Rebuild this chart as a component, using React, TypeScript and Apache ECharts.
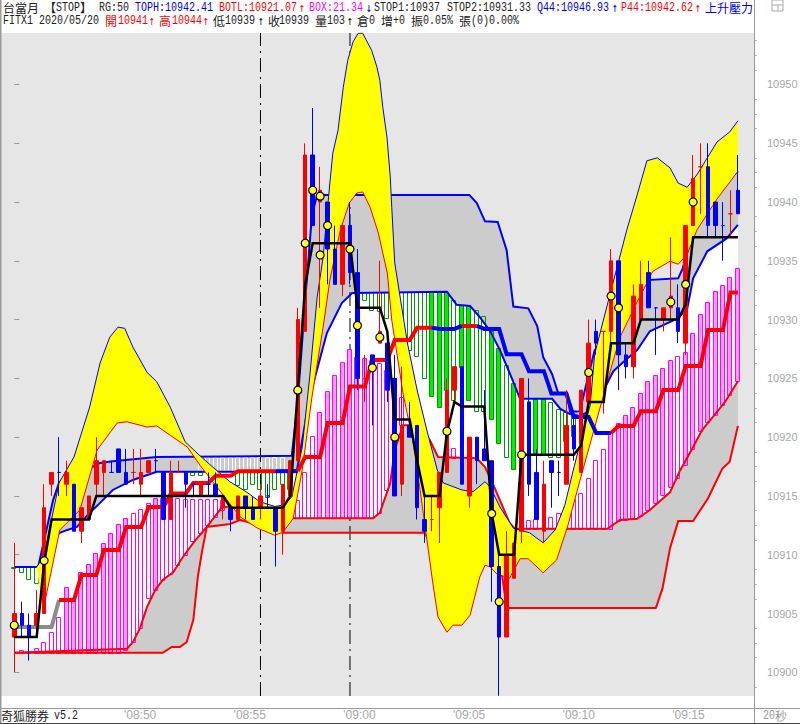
import React, { useEffect, useRef } from "react";
import * as echarts from "echarts";

const opens = [10903,10905,10904,10904,10905,10916,10917,10916,10916,10912,10913,10916,10917,10917,10919,10917,10917,10916,10917,10918,10917,10913,10917,10917,10916,10915,10916,10916,10914,10914,10913,10915,10914,10914,10915,10914,10912,10915,10918,10929,10944,10940,10940,10936,10933,10938,10934,10925,10927,10928,10928,10925,10916,10921,10921,10913,10913,10914,10917,10924,10926,10915,10920,10919,10918,10909,10903,10908,10912,10923,10917,10912,10918,10917,10916,10921,10917,10923,10929,10929,10929,10935,10927,10926,10930,10934,10931,10930,10931,10931,10928,10938,10943,10943,10940,10938,10939,10941];
const closes = [10905,10904,10903,10905,10914,10917,10917,10917,10912,10914,10915,10918,10918,10917,10917,10916,10917,10917,10918,10918,10913,10917,10917,10916,10916,10916,10916,10915,10915,10913,10915,10914,10913,10915,10915,10912,10916,10918,10930,10944,10938,10941,10936,10933,10938,10934,10925,10925,10926,10929,10924,10915,10921,10920,10914,10912,10913,10917,10924,10926,10916,10920,10918,10918,10909,10903,10910,10911,10925,10916,10913,10916,10917,10917,10921,10919,10924,10928,10928,10929,10935,10927,10926,10932,10933,10931,10931,10931,10932,10929,10938,10942,10943,10938,10938,10938,10939,10939];
const lows = [10900,10903,10901,10903,10905,10915,10915,10915,10912,10911,10913,10915,10915,10917,10917,10916,10916,10915,10917,10917,10913,10913,10917,10914,10915,10915,10915,10915,10913,10912,10913,10913,10913,10913,10914,10909,10910,10915,10918,10929,10938,10931,10933,10933,10932,10933,10924,10923,10921,10928,10923,10915,10915,10920,10913,10911,10912,10911,10917,10923,10916,10914,10916,10918,10906,10898,10903,10908,10911,10915,10913,10911,10914,10915,10916,10918,10917,10923,10927,10922,10928,10924,10925,10925,10930,10931,10927,10929,10930,10928,10927,10938,10939,10937,10937,10935,10937,10939];
const highs = [10911,10906,10905,10907,10916,10917,10920,10918,10916,10914,10915,10920,10918,10918,10919,10919,10919,10919,10918,10919,10917,10918,10918,10917,10916,10916,10917,10917,10915,10914,10915,10915,10915,10916,10916,10914,10916,10918,10931,10945,10948,10943,10940,10938,10938,10940,10936,10927,10927,10935,10928,10927,10926,10923,10921,10915,10915,10917,10925,10926,10926,10920,10920,10924,10918,10910,10912,10911,10925,10925,10919,10918,10918,10918,10924,10922,10924,10930,10930,10929,10936,10935,10928,10933,10935,10935,10931,10931,10937,10933,10938,10944,10945,10945,10940,10940,10941,10944];
const dojiBlue = [6,13,19,24,26,34,73,86,95];

// The curves below were read against a first estimate of the price scale; the ticks sit 0.11 higher.
const readOffset = 0.11;

const yellowTop = [[3,10908.85],[4,10909.8],[6,10916],[8,10918.2],[10.1,10922.45],[11.5,10926.2],[12.8,10928.4],[13.9,10929.25],[14.8,10929.15],[15.9,10927.55],[17.8,10925.4],[19.1,10924.6],[20.9,10922.45],[22.9,10919.5],[24.9,10918.3],[26.6,10917.35],[28.9,10916.1],[31.2,10915.2],[32.9,10914.4],[34.9,10914],[36,10914.1],[37.2,10914.8],[38.6,10919.05],[39.6,10925],[40.6,10931.8],[41.4,10935.2],[42.3,10941.5],[42.7,10944.05],[43.4,10946],[44.1,10949.65],[44.7,10951.95],[45.4,10953.5],[46.1,10954.25],[46.7,10954.25],[47.9,10952.8],[48.6,10951.4],[49,10950.25],[49.4,10947.95],[49.96,10945.4],[50.4,10942],[50.6,10939.45],[51,10934.7],[52.7,10927.9],[54,10923.9],[55.3,10920.5],[56.7,10917.1],[57.5,10916],[60,10915.4],[61.5,10915.25],[63.1,10916.1],[63.8,10915.65],[65.1,10913.95],[66.9,10912.15],[69.1,10911.75],[70.9,10910.9],[72.5,10912],[73.8,10914.1],[74.9,10917],[76.2,10920.25],[77.2,10922.6],[77.8,10926.95],[79.6,10931.4],[82.1,10937.5],[83.5,10940.5],[84.8,10943.4],[86.2,10943.65],[87.9,10942.8],[89,10941.5],[90.2,10941.15],[91.5,10942.2],[94.2,10945],[95.9,10945.85],[97,10946.8]];
const yellowBottom = [[3.8,10904.95],[6.1,10912],[8.8,10913.7],[11.1,10918.8],[13.8,10921.1],[15.1,10921.2],[17.8,10920.75],[19.1,10920.85],[20.9,10920.05],[23.2,10919.05],[24.9,10917.5],[26.6,10916.1],[28.5,10914.55],[30.3,10913.1],[32.6,10912.15],[34.9,10911.55],[36,10911.8],[36.96,10912.6],[37.4,10913],[38.6,10917.1],[39.9,10923.3],[41.4,10929.25],[42.3,10933.25],[43.7,10937.5],[44.9,10939.8],[45.9,10940.65],[46.7,10940.75],[47.7,10939.45],[48.8,10937.25],[50,10933.85],[50.6,10929.85],[52.1,10923.65],[53.4,10919.65],[54.4,10915.4],[56.1,10907.5],[56.8,10904.6],[58,10903.3],[58.8,10903.9],[60,10903.9],[61.1,10904.75],[62.4,10908],[63.1,10909],[63.8,10908.85],[64.7,10908.25],[66.4,10907.9],[67.8,10909.55],[68.9,10909.55],[70.9,10908.35],[72.7,10909.45],[74.2,10912.35],[75.8,10916.15],[77.6,10920.25],[79.5,10924.65],[81.2,10928.4],[83.5,10931.4],[85.6,10934],[87.9,10934.85],[89,10934.6],[90.2,10935.45],[91.5,10937.5],[94.2,10940.15],[97,10942.5]];
const outerUpper = [[0,10908.85],[3.2,10908.85],[5.2,10914.55],[6,10916],[7.5,10916.85],[9.7,10917.1],[11.5,10917.7],[13.2,10917.85],[19.1,10918.2],[37.2,10918.3],[38,10923],[39,10931.55],[39.9,10938.8],[40.6,10940.5],[61,10940.5],[62,10939.8],[63.1,10938.25],[64.8,10938.2],[66,10935.8],[66.9,10931],[68.9,10930.85],[70.1,10929.35],[70.9,10926.7],[72.1,10925.25],[72.9,10923.65],[74.1,10923.65],[74.5,10922.05],[75.8,10922.1],[77.8,10927.3],[78.8,10927.7],[80.1,10928.75],[81.2,10931.4],[84.8,10933.25],[89,10933.4],[89.6,10934.25],[90.8,10936.9],[92.9,10940.5],[97,10942.5]];
const innerUpper = [[0,10908.85],[3.2,10908.85],[4,10909.85],[5.05,10911.15],[6.1,10911.75],[7.1,10912],[8.4,10912.25],[10.1,10913.45],[11.5,10914.3],[13.2,10915.4],[15.9,10916.25],[19.1,10916.95],[36.96,10916.95],[37.9,10917.1],[39.6,10923.3],[41.9,10928.75],[43.9,10931.3],[45.3,10932.15],[58,10932.25],[59.3,10931.15],[61.1,10931.05],[62.4,10930.1],[63.8,10928.9],[65.1,10927.3],[66.7,10924.9],[67.8,10923.15],[72.1,10923.15],[73.2,10922.3],[74.5,10921.85],[75.8,10921.7],[77.8,10922.3],[78.9,10923.75],[80.3,10925.5],[82.1,10926.55],[83.5,10927.3],[85.2,10928.9],[86.9,10929.4],[88.8,10929.95],[90.2,10930.8],[91,10933.4],[92.9,10935.7],[95.5,10936.8],[97,10937.95]];
const innerLower = [[0,10901.55],[15.1,10901.9],[15.9,10902.45],[16.85,10903.65],[17.8,10905.45],[18.9,10906.9],[19.9,10907.75],[21.3,10908.4],[22.6,10909.7],[24,10910.9],[25.8,10912.25],[27.8,10913.9],[30,10914.1],[32.9,10913.7],[36,10913.1],[37.4,10913],[48.1,10913],[49,10913.45],[50.4,10916],[51,10918.8],[52.1,10920.9],[54,10920.9],[55.7,10919.65],[56.8,10918.2],[62,10918.1],[63.1,10917.35],[64.1,10916],[66.4,10912.6],[67.1,10912.1],[79.5,10912.1],[81.2,10912.85],[83.5,10912.95],[85.2,10913.7],[87.9,10915.2],[89.2,10917],[91,10919.05],[92.2,10920.5],[95.3,10922.9],[97,10924.65]];
const outerLower = [[0,10901.55],[19.9,10901.55],[21.1,10902.05],[22.2,10902.05],[23.1,10902.45],[24,10904.35],[24.6,10908],[25.2,10910.3],[25.8,10912.25],[27.6,10912.4],[28.9,10912.5],[30.3,10912.85],[32.9,10912.4],[36,10911.75],[55,10911.75],[57,10909.45],[65.1,10909.45],[66,10905.35],[86,10905.35],[86.9,10907.05],[87.9,10910.45],[89,10912.75],[91,10912.75],[93,10914.7],[94.9,10917.2],[95.9,10917.8],[97,10920.85]];

const stopLine = [10903,10903,10903,10903,10909.3,10913,10913,10913,10913,10913,10913,10915,10915,10915,10915,10915,10915,10915,10915,10915,10915,10915,10915,10915,10915,10915,10915,10915,10915,10914,10914,10914,10914,10914,10914,10914,10914,10915,10924,10933,10936.5,10936.5,10936.5,10936.5,10936.5,10936.5,10931,10931,10931,10931,10929,10921.5,10921.5,10921.5,10918,10915,10915,10915,10920.4,10923,10922.6,10922.6,10922.6,10922.6,10913.5,10910,10910,10910,10918.5,10918.5,10918.5,10918.5,10918.5,10918.5,10918.5,10918.5,10919.3,10923,10923,10923,10928,10928,10928,10928,10930,10930,10930,10930,10930,10930,10931.3,10937,10937,10937,10937,10937,10937,10937];
const midLine = [10903.75,10903.75,10903.75,10903.75,10903.75,10903.75,10906.04,10906.04,10906.04,10908.17,10908.17,10908.17,10910.3,10910.3,10910.3,10912.25,10912.25,10912.25,10913.95,10913.95,10913.95,10915.1,10915.1,10915.1,10916,10916,10916,10916.6,10916.6,10916.6,10917,10917,10917,10917,10917,10917,10917,10917,10917,10918.2,10918.2,10918.2,10921.1,10921.1,10921.1,10924.2,10924.2,10924.2,10926.45,10926.45,10926.45,10928.15,10928.15,10928.15,10929.2,10929.2,10929.2,10929.1,10929.1,10929.1,10929.35,10929.35,10929.35,10929.1,10929.1,10929.1,10926.95,10926.95,10926.95,10925.5,10925.5,10925.5,10923.6,10923.6,10923.6,10921.6,10921.6,10921.6,10920.25,10920.25,10920.25,10920.85,10920.85,10920.85,10922.1,10922.1,10922.1,10923.9,10923.9,10923.9,10925.95,10925.95,10925.95,10929,10929,10929,10932.2,10932.2];
const midSegments = [[0,6,"#8c8c8c"],[6,35,"#ff0000"],[35,38,"#0000ff"],[38,56,"#ff0000"],[56,60,"#0000ff"],[60,62,"#ff0000"],[62,80,"#0000ff"],[80,97,"#ff0000"]];

const magentaBars = [[1,10901.79,10901.54,0],[2,10901.62,10901.54,0],[3,10901.96,10901.54,0],[4,10902.47,10901.54,0],[5,10903.32,10901.54,0],[6,10904.6,10901.54,0],[7,10907.15,10901.54,1],[8,10906.21,10901.54,1],[9,10908.42,10901.54,1],[10,10909.1,10901.54,1],[11,10910.04,10901.54,1],[12,10910.89,10901.54,1],[13,10911.74,10901.54,1],[14,10912.5,10901.54,1],[15,10913.01,10901.79,1],[16,10913.44,10902.47,0],[17,10913.78,10903.66,0],[18,10914.29,10906.21,0],[19,10914.71,10906.89,1],[20,10914.71,10907.74,0],[21,10914.71,10908.25,0],[22,10914.71,10909.02,0],[23,10914.63,10909.87,0],[24,10914.63,10911.06,0],[25,10914.63,10911.74,0],[26,10914.63,10912.42,0],[27,10914.63,10913.1,0],[28,10914.55,10913.69,0],
[38,10914.55,10913.01,0],[39,10916.93,10913.01,0],[40,10919.99,10913.01,0],[41,10922.03,10913.01,1],[42,10923.81,10913.01,1],[43,10925.17,10913.01,1],[44,10926.28,10913.01,1],[45,10927.38,10913.01,1],[46,10926.7,10913.01,1],[47,10926.62,10913.01,1],[48,10926.45,10913.01,0],[49,10926.19,10913.45,0],[50,10925.6,10915.4,0],[51,10924.92,10918.8,0],[52,10923.3,10920.9,0],[59,10918.97,10918.12,0],
[69,10912.84,10912.08,0],[70,10912.93,10912.08,0],[72,10913.1,10912.08,0],[73,10913.44,10912.08,0],[74,10913.95,10912.08,0],[75,10914.63,10912.08,0],[76,10915.14,10912.08,0],[77,10916.42,10912.08,0],[78,10917.95,10912.08,0],[79,10918.88,10912.08,0],[80,10920.24,10912.08,1],[81,10921.09,10912.76,1],[82,10921.77,10912.84,1],[83,10922.45,10912.93,1],[84,10923.64,10913.18,1],[85,10924.66,10913.69,1],[86,10925.17,10914.29,1],[87,10925.77,10914.97,1],[88,10926.45,10915.65,1],[89,10926.79,10916.42,0],[90,10927.13,10917.52,1],[91,10928.75,10918.88,1],[92,10930.36,10920.41,1],[93,10931.38,10921.18,1],[94,10932.32,10921.77,1],[95,10932.83,10922.62,1],[96,10933.51,10923.47,1],[97,10934.27,10924.66,1]];
const greenBars = [[0,10908.85,10908.76,0],[1,10908.85,10908.42,0],[2,10908.85,10907.83,0],[3,10908.85,10907.49,0],[24,10916.93,10916.67,0],[25,10916.93,10916.67,0],[30,10916.93,10915.82,0],[31,10916.93,10915.48,0],[32,10916.93,10915.9,0],[33,10916.93,10915.48,0],[34,10916.93,10914.8,0],[35,10916.93,10915.48,0],[36,10916.93,10915.9,0],[37,10916.93,10915.48,0],
[47,10932.23,10931.55,0],[48,10932.23,10930.7,0],[49,10932.23,10930.62,0],[50,10932.23,10930.02,0],[51,10932.23,10929.6,0],[52,10932.23,10928.15,0],[53,10932.23,10927.3,0],[54,10932.23,10926.79,0],[55,10932.23,10924.92,0],[56,10932.23,10923.39,1],[57,10932.23,10922.45,1],[58,10932.23,10923.9,1],[59,10931.55,10923.05,0],[60,10931.13,10925.85,1],[61,10931.04,10923.05,1],[62,10930.7,10922.11,0],[63,10930.19,10922.11,0],[64,10928.92,10921.43,1],[65,10927.47,10919.39,1],[66,10926.02,10918.2,0],[67,10924.49,10917.18,1],
[70,10923.13,10918.54,1],[71,10923.13,10918.46,1],[72,10922.88,10918.2,0],[73,10922.28,10918.2,0],[74,10922.03,10919.6,0],[75,10921.69,10920,0]];
const whiteBars = [25,26,27,28,29,30,31,32,33,34,35,36];
const whiteBarTop = 10918.3;
const whiteBarBottom = 10916.95;

const dotBars = [0,4,38,39,40,41,41,42,45,46,48,49,51,58,64,65,68,77,80,81,88,90,91];
const dotPrices = [10904,10909.5,10924,10936.5,10941,10940.5,10935.5,10938,10936,10929.5,10925.9,10928.5,10920,10920.5,10913.5,10906,10918.5,10925.5,10932,10931,10931.5,10933,10940];
const dashBars = [33,45];

const priceTicks = [10900,10905,10910,10915,10920,10925,10930,10935,10940,10945,10950];
const minorTicks = [10898.75,10901.25,10902.5,10903.75,10906.25,10907.5,10908.75,10911.25,10912.5,10913.75,10916.25,10917.5,10918.75,10921.25,10922.5,10923.75,10926.25,10927.5,10928.75,10931.25,10932.5,10933.75,10936.25,10937.5,10938.75,10941.25,10942.5,10943.75,10946.25,10947.5,10948.75,10951.25,10952.5,10953.75];
const timeTickBars = [14.7,29.4,44.1,58.8,73.5,88.2];
const timeTickLabels = ["'08:50","'08:55","'09:00","'09:05","'09:10","'09:15"];
const priceMin = 10897.984;
const priceMax = 10954.38;

const MONO = '12px "Liberation Mono"';
const CJK = '12px "Noto Sans CJK TC"';
const ARROW = '13px "DejaVu Sans Mono"';
const RED = "#ff0000";
const BLUE = "#0000ff";
const INK = "#222222";
// kind: 0 latin, 1 CJK, 2 arrow
const headerTexts = [
  [3, 7, "台當月", INK, 1], [44, 7, "【", INK, 1], [56, 7, "STOP", INK, 0], [80, 7, "】", INK, 1], [99, 7, "RG:50", INK, 0],
  [135, 7, "TOPH:10942.41", BLUE, 0], [219, 7, "BOTL:10921.07", RED, 0], [299, 8, "↑", RED, 2], [309, 7, "BOX:21.34", "#ff00ff", 0], [366, 8, "↓", BLUE, 2],
  [374, 7, "STOP1:10937", INK, 0], [447, 7, "STOP2:10931.33", INK, 0], [537, 7, "Q44:10946.93", BLUE, 0], [612, 8, "↑", BLUE, 2],
  [621, 7, "P44:10942.62", RED, 0], [695, 8, "↑", RED, 2], [705, 7, "上升壓力", BLUE, 1],
  [3, 20, "FITX1 2020/05/20", INK, 0], [105, 20, "開", RED, 1], [118, 20, "10941", RED, 0], [149, 21, "↑", RED, 2], [159, 20, "高", RED, 1], [172, 20, "10944", RED, 0], [203, 21, "↑", RED, 2],
  [213, 20, "低", INK, 1], [225, 20, "10939", INK, 0], [258, 21, "↑", INK, 2], [268, 20, "收", INK, 1], [279, 20, "10939", INK, 0], [315, 20, "量", INK, 1], [327, 20, "103", INK, 0], [347, 21, "↑", INK, 2],
  [357, 20, "倉", INK, 1], [369, 20, "0", INK, 0], [381, 20, "增", INK, 1], [393, 20, "+0", INK, 0], [411, 20, "振", INK, 1], [423, 20, "0.05%", INK, 0], [459, 20, "張", INK, 1], [471, 20, "(0)0.00%", INK, 0],
  [1, 715, "奇狐勝券", INK, 1], [54, 715, "v5.2", INK, 0], [763, 715, "20", "#999999", 0], [775, 715, "秒", "#999999", 1],
];

const read = (rows: number[][]) => rows.map((r) => [r[0], +(r[1] + readOffset).toFixed(2)]);
const readBars = (rows: number[][]) =>
  rows.map((r) => [r[0], +(r[1] + readOffset).toFixed(2), +(r[2] + readOffset).toFixed(2), r[3]]);

function bandSeries(upper: number[][], lower: number[][], fill: string, z: number) {
  return {
    type: "custom",
    coordinateSystem: "cartesian2d",
    silent: true,
    z,
    data: [[upper[0][0], upper[0][1]]],
    encode: { x: 0, y: 1 },
    renderItem: (_p: any, api: any) => ({
      type: "polygon",
      silent: true,
      shape: { points: [...upper.map((k) => api.coord(k)), ...[...lower].reverse().map((k) => api.coord(k))] },
      style: { fill, stroke: "none" },
    }),
  };
}

function barSeries(rows: number[][], edge: string, solid: string, z: number) {
  return {
    type: "custom",
    coordinateSystem: "cartesian2d",
    silent: true,
    z,
    data: rows,
    encode: { x: 0, y: [1, 2] },
    renderItem: (_p: any, api: any) => {
      const a = api.coord([api.value(0), api.value(1)]);
      const b = api.coord([api.value(0), api.value(2)]);
      const x = Math.round(a[0]) - 2.5;
      const top = Math.round(Math.min(a[1], b[1])) + 0.5;
      const h = Math.max(1, Math.round(Math.abs(b[1] - a[1])));
      return {
        type: "rect",
        silent: true,
        shape: { x, y: top, width: 4, height: h },
        style: { fill: api.value(3) ? solid : "none", stroke: edge, lineWidth: 1 },
      };
    },
  };
}

function lineSeries(rows: number[][], color: string, width: number, z: number, extra: any = {}) {
  return {
    type: "line",
    data: rows,
    showSymbol: false,
    symbol: "none",
    silent: true,
    z,
    lineStyle: { color, width, join: "miter", ...extra },
  };
}

function candleSeries(bars: number[], color: string) {
  return {
    type: "candlestick",
    silent: true,
    z: 8,
    barWidth: 4,
    encode: { x: 0, y: [1, 2, 3, 4] },
    data: bars.map((i) => [i, opens[i], closes[i], lows[i], highs[i]]),
    itemStyle: { color, color0: color, borderColor: color, borderColor0: color, borderColorDoji: color, borderWidth: 1 },
  };
}

export default function App() {
  const ref = useRef<HTMLDivElement>(null);
  useEffect(() => {
    document.body.style.margin = "0";
    const chart = echarts.init(ref.current!, undefined, { renderer: "svg" });
    const allBars = opens.map((_, i) => i);
    const isBlue = (i: number) => closes[i] < opens[i] || dojiBlue.includes(i);
    const textEls = headerTexts.map(([x, y, text, fill, kind]: any) => ({
      type: "text",
      silent: true,
      x,
      y: kind === 0 ? y + 1 : y,
      scaleX: kind === 1 ? 1 : kind === 2 ? 0.77 : 0.8333,
      z: 100,
      style: { text, fill, font: kind === 0 ? MONO : kind === 2 ? ARROW : CJK, verticalAlign: "middle" },
    }));
    const frame = [
      { x: 0, y: 0, width: 1.5, height: 724, fill: "#9a9a9a" },
      { x: 754, y: 0, width: 1, height: 724, fill: "#9a9a9a" },
      { x: 0, y: 708, width: 800, height: 1, fill: "#9a9a9a" },
      { x: 0, y: 723, width: 800, height: 1, fill: "#444444" },
    ].map((r) => ({ type: "rect", silent: true, z: 100, shape: { x: r.x, y: r.y, width: r.width, height: r.height }, style: { fill: r.fill } }));
    const windowIcon = [
      { type: "rect", silent: true, z: 100, shape: { x: 772, y: 0, width: 11, height: 11 }, style: { fill: "none", stroke: "#aaaaaa", lineWidth: 1 } },
      { type: "line", silent: true, z: 100, shape: { x1: 772, y1: 5, x2: 783, y2: 5 }, style: { stroke: "#aaaaaa", lineWidth: 1 } },
      { type: "line", silent: true, z: 100, shape: { x1: 778, y1: 5, x2: 778, y2: 11 }, style: { stroke: "#aaaaaa", lineWidth: 1 } },
    ];
    const uOut = read(outerUpper);
    const uIn = read(innerUpper);
    const lIn = read(innerLower);
    const lOut = read(outerLower);
    const yTop = read(yellowTop);
    const yBottom = read(yellowBottom);
    chart.setOption({
      animation: false,
      backgroundColor: "#ffffff",
      grid: { left: 1, right: 46, top: 33, bottom: 28, show: true, backgroundColor: "#e6e6e6", borderWidth: 0, outerBoundsMode: "none" },
      xAxis: {
        type: "value",
        min: -1.783,
        max: 99.16,
        splitLine: { show: false },
        axisLine: { show: false },
        axisTick: { show: false },
        axisLabel: {
          customValues: timeTickBars,
          formatter: (v: number) => timeTickLabels[timeTickBars.indexOf(v)] ?? "",
          align: "left",
          color: "#a8a8a8",
          fontFamily: "Liberation Sans",
          fontSize: 12,
          margin: 13,
          hideOverlap: false,
          showMinLabel: true,
          showMaxLabel: true,
        },
      },
      yAxis: [
        {
          type: "value",
          position: "right",
          min: priceMin,
          max: priceMax,
          splitLine: { show: false },
          axisLine: { show: false },
          axisTick: { show: true, length: 5, lineStyle: { color: "#999999" }, customValues: priceTicks },
          axisLabel: { customValues: priceTicks, color: "#a8a8a8", fontFamily: "Liberation Sans", fontSize: 11, margin: 13, padding: [0, 0, 3, 0], formatter: (v: number) => String(v) },
        },
        {
          type: "value",
          position: "right",
          min: priceMin,
          max: priceMax,
          splitLine: { show: false },
          axisLine: { show: false },
          axisTick: { show: true, length: 3, lineStyle: { color: "#bbbbbb" }, customValues: minorTicks },
          axisLabel: { show: false },
        },
      ],
      graphic: [...textEls, ...frame, ...windowIcon],
      series: [
        bandSeries(uOut, uIn, "#cccccc", 1),
        bandSeries(uIn, lIn, "#ffffff", 1),
        bandSeries(lIn, lOut, "#cccccc", 1),
        ...dashBars.map((b) => lineSeries([[b, priceMin], [b, priceMax]], "#000000", 1, 2, { type: [14, 5, 2, 5] })),
        barSeries(whiteBars.map((b) => [b, whiteBarTop, whiteBarBottom, 0]), "#ffffff", "#ffffff", 2),
        barSeries(readBars(magentaBars), "#ff00ff", "#ff99ff", 3),
        barSeries(readBars(greenBars), "#009900", "#00ee00", 3),
        lineSeries(uOut, BLUE, 2, 4),
        lineSeries(uIn, BLUE, 2, 4),
        lineSeries(lIn, RED, 2, 4),
        lineSeries(lOut, RED, 2, 4),
        bandSeries(yTop, yBottom, "#ffff00", 5),
        lineSeries(yTop, BLUE, 1, 6),
        lineSeries(yBottom, RED, 1, 6),
        ...midSegments.map(([a, b, color]: any) =>
          lineSeries(midLine.slice(a, b + 1).map((v, k) => [a + k, +(v + readOffset).toFixed(2)]), color, 4, 7)
        ),
        candleSeries(allBars.filter((i) => !isBlue(i)), RED),
        candleSeries(allBars.filter(isBlue), BLUE),
        lineSeries(stopLine.map((v, i) => [i, v]), "#000000", 2.5, 9),
        {
          type: "scatter",
          silent: true,
          z: 10,
          symbolSize: 8,
          data: dotBars.map((b, i) => [b, dotPrices[i]]),
          itemStyle: { color: "#ffff33", borderColor: "#000000", borderWidth: 1.2, opacity: 1 },
        },
      ],
    });
    return () => chart.dispose();
  }, []);
  return <div ref={ref} style={{ position: "fixed", left: 0, top: 0, width: 800, height: 724 }} />;
}
